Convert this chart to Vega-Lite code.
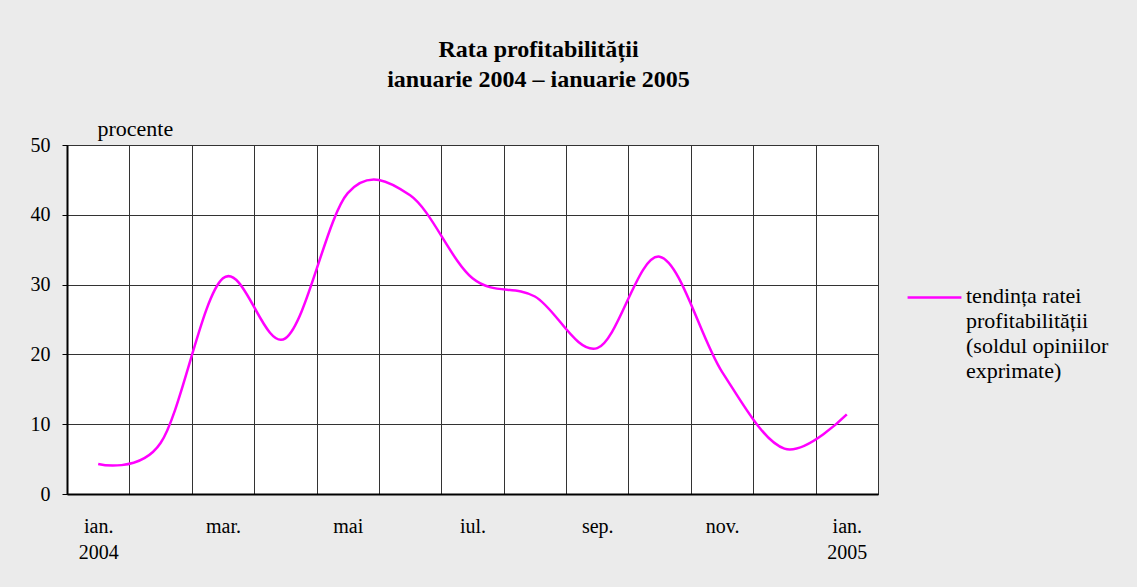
{
  "$schema": "https://vega.github.io/schema/vega-lite/v6.json",
  "width": 811,
  "height": 349,
  "autosize": {"type": "none"},
  "padding": {"left": 67, "top": 145, "right": 259, "bottom": 93},
  "background": "#ebebeb",
  "title": {
    "text": ["Rata profitabilității", "ianuarie 2004 – ianuarie 2005"],
    "font": "Liberation Serif",
    "fontSize": 24,
    "fontWeight": "bold",
    "color": "black",
    "lineHeight": 30,
    "anchor": "middle",
    "dx": 66,
    "offset": 25
  },
  "config": {
    "view": {"fill": "white", "stroke": "black", "strokeWidth": 1},
    "font": "Liberation Serif"
  },
  "data": {
    "values": [
      {"luna": "ian. 2004", "valoare": 4.3},
      {"luna": "feb. 2004", "valoare": 7.3},
      {"luna": "mar. 2004", "valoare": 30.9},
      {"luna": "apr. 2004", "valoare": 22.3},
      {"luna": "mai 2004", "valoare": 43.1},
      {"luna": "iun. 2004", "valoare": 42.8},
      {"luna": "iul. 2004", "valoare": 30.9},
      {"luna": "aug. 2004", "valoare": 28.3},
      {"luna": "sep. 2004", "valoare": 20.9},
      {"luna": "oct. 2004", "valoare": 34.0},
      {"luna": "nov. 2004", "valoare": 17.5},
      {"luna": "dec. 2004", "valoare": 6.5},
      {"luna": "ian. 2005", "valoare": 11.4}
    ]
  },
  "mark": {"type": "line", "interpolate": "cardinal", "tension": 0, "strokeWidth": 2.5},
  "encoding": {
    "x": {
      "field": "luna",
      "type": "ordinal",
      "sort": null,
      "bandPosition": 0.5,
      "scale": {"type": "band", "paddingInner": 0, "paddingOuter": 0},
      "axis": {
        "title": null,
        "labelAngle": 0,
        "tickBand": "extent",
        "ticks": false,
        "grid": true,
        "gridColor": "#333333",
        "gridOpacity": 1,
        "domainColor": "black",
        "domainWidth": 2,
        "labelFont": "Liberation Serif",
        "labelFontSize": 20,
        "labelColor": "black",
        "labelPadding": 22,
        "labelLineHeight": 26,
        "labelBaseline": "top",
        "labelExpr": "datum.value == 'ian. 2004' ? ['ian.', '2004'] : datum.value == 'ian. 2005' ? ['ian.', '2005'] : indexof(['mar. 2004', 'mai 2004', 'iul. 2004', 'sep. 2004', 'nov. 2004'], datum.value) >= 0 ? split(datum.value, ' ')[0] : ''"
      }
    },
    "y": {
      "field": "valoare",
      "type": "quantitative",
      "scale": {"domain": [0, 50], "nice": false},
      "axis": {
        "title": "procente",
        "titleAngle": 0,
        "titleX": 30,
        "titleY": -5,
        "titleAlign": "left",
        "titleBaseline": "bottom",
        "titleFont": "Liberation Serif",
        "titleFontSize": 22,
        "titleFontWeight": "normal",
        "titleColor": "black",
        "values": [0, 10, 20, 30, 40, 50],
        "grid": true,
        "gridColor": "#333333",
        "gridOpacity": 1,
        "domainColor": "black",
        "domainWidth": 2,
        "tickColor": "black",
        "tickSize": 5,
        "labelFont": "Liberation Serif",
        "labelFontSize": 20,
        "labelColor": "black",
        "labelPadding": 12
      }
    },
    "color": {
      "datum": "tendința ratei profitabilității (soldul opiniilor exprimate)",
      "type": "nominal",
      "scale": {"range": ["#ff00ff"]},
      "legend": {
        "title": null,
        "orient": "none",
        "legendX": 839,
        "legendY": 129,
        "padding": 0,
        "symbolType": "M-1,-0.19L1,-0.19",
        "symbolSize": 2900,
        "symbolStrokeWidth": 2.5,
        "symbolFillColor": "transparent",
        "labelOffset": 3,
        "labelFont": "Liberation Serif",
        "labelFontSize": 22,
        "labelColor": "black",
        "labelBaseline": "alphabetic",
        "labelLimit": 300,
        "labelExpr": "['tendința ratei', 'profitabilității', '(soldul opiniilor', 'exprimate)']",
        "encode": {"labels": {"update": {"lineHeight": {"value": 25}}}}
      }
    }
  }
}
